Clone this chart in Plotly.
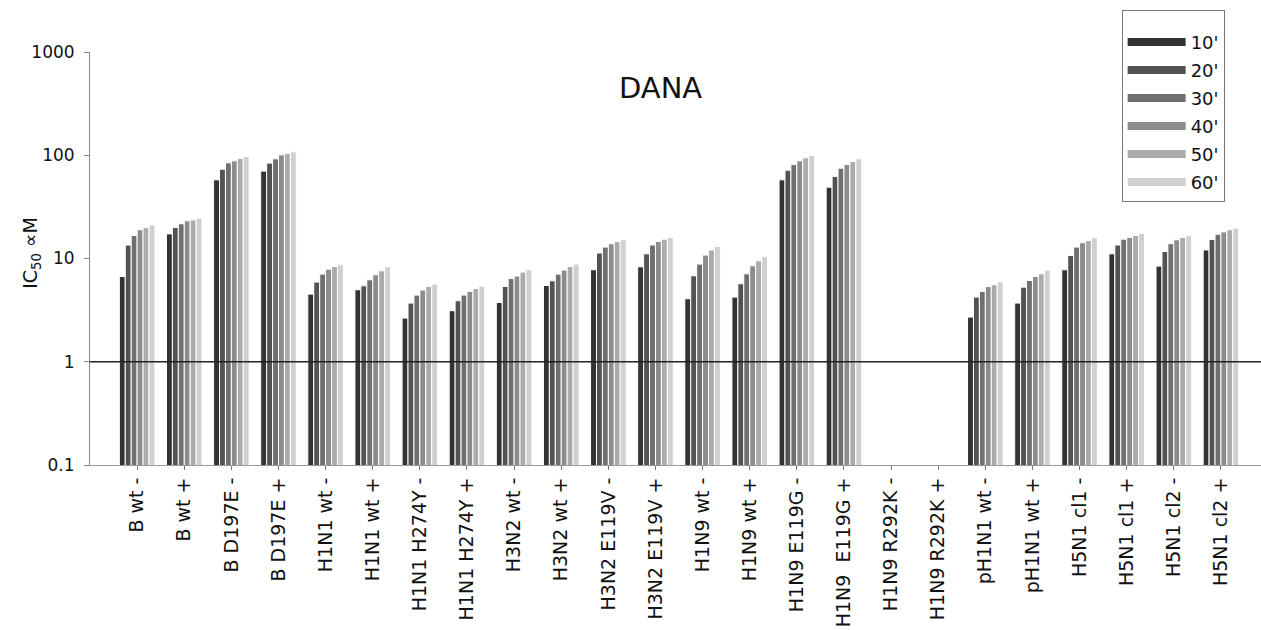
import plotly.graph_objects as go

# Strain / variant labels along the category axis
strains = [
    "B wt -", "B wt +", "B D197E -", "B D197E +",
    "H1N1 wt -", "H1N1 wt +", "H1N1 H274Y -", "H1N1 H274Y +",
    "H3N2 wt -", "H3N2 wt +", "H3N2 E119V -", "H3N2 E119V +",
    "H1N9 wt -", "H1N9 wt +", "H1N9 E119G -", "H1N9\u00a0 E119G +",
    "H1N9 R292K -", "H1N9 R292K +", "pH1N1 wt -", "pH1N1 wt +",
    "H5N1 cl1 -", "H5N1 cl1 +", "H5N1 cl2 -", "H5N1 cl2 +",
]

# Incubation times (series names)
times = ["10'", "20'", "30'", "40'", "50'", "60'"]

# IC50 values per incubation time (None = not determined)
ic50_10 = [6.7, 17.3, 57.8, 70.2, 4.52, 4.98, 2.65, 3.12, 3.75, 5.48, 7.78, 8.31,
           4.07, 4.23, 57.8, 49.1, None, None, 2.71, 3.70, 7.78, 11.1, 8.44, 12.1]
ic50_20 = [13.5, 20.0, 73.3, 83.9, 5.91, 5.44, 3.70, 3.90, 5.36, 6.08, 11.3, 11.1,
           6.80, 5.69, 71.7, 62.2, None, None, 4.23, 5.28, 10.7, 13.5, 11.7, 15.3]
ic50_30 = [16.7, 21.7, 84.4, 92.3, 7.06, 6.22, 4.42, 4.42, 6.40, 7.06, 12.9, 13.5,
           8.83, 7.11, 81.3, 75.0, None, None, 4.80, 6.12, 12.9, 15.4, 13.9, 17.2]
ic50_40 = [19.0, 23.2, 88.3, 100.9, 7.89, 6.95, 4.94, 4.80, 6.76, 7.72, 13.9, 14.6,
           10.8, 8.50, 88.3, 81.3, None, None, 5.36, 6.70, 14.2, 16.0, 15.2, 18.1]
ic50_50 = [20.0, 23.7, 92.9, 103.9, 8.37, 7.60, 5.36, 5.13, 7.38, 8.37, 14.6, 15.4,
           12.1, 9.50, 94.4, 86.9, None, None, 5.56, 7.11, 14.9, 16.7, 16.0, 19.0]
ic50_60 = [21.2, 24.6, 97.2, 107.9, 8.69, 8.37, 5.65, 5.41, 7.78, 8.83, 15.2, 16.0,
           13.1, 10.4, 99.3, 92.3, None, None, 5.95, 7.72, 15.9, 17.5, 16.7, 19.7]

series = [ic50_10, ic50_20, ic50_30, ic50_40, ic50_50, ic50_60]
greys = ["#333333", "#535353", "#707070", "#8c8c8c", "#ababab", "#d0d0d0"]

FONT = "DejaVu Sans"

fig = go.Figure()

for name, vals, col in zip(times, series, greys):
    fig.add_trace(go.Bar(
        x=strains, y=vals, name=name,
        marker=dict(color=col, line=dict(color="white", width=1)),
        showlegend=False,
    ))

# Legend entries drawn as thick strokes
for name, col in zip(times, greys):
    fig.add_trace(go.Scatter(
        x=[None], y=[None], mode="lines", name=name, legendgroup=name,
        line=dict(color=col, width=8),
    ))

fig.update_layout(
    width=1261, height=630,
    margin=dict(l=90, r=0, t=52, b=165),
    paper_bgcolor="white", plot_bgcolor="white",
    barmode="group", bargap=0.245, bargroupgap=0,
    font=dict(family=FONT, size=17, color="#111111"),
    showlegend=True,
    legend=dict(
        x=0.881, y=1.102, xanchor="left", yanchor="top",
        bordercolor="#777777", borderwidth=1, bgcolor="white",
        font=dict(family=FONT, size=18, color="#111111"),
        tracegroupgap=1.6, itemwidth=58,
        title=dict(text="\u00a0", font=dict(size=10)),
    ),
    xaxis=dict(
        type="category", range=[-1, 23.85],
        showline=True, linecolor="#999999", linewidth=1,
        ticks="outside", ticklen=4, tickcolor="#777777",
        tickangle=-90, showgrid=False,
        tickfont=dict(family=FONT, size=19, color="#111111"),
    ),
    yaxis=dict(
        type="log", range=[-1, 3],
        tickvals=[0.1, 1, 10, 100, 1000],
        ticktext=["0.1", "1", "10", "100", "1000"],
        showline=True, linecolor="#888888", linewidth=1,
        ticks="outside", ticklen=5, tickcolor="#888888",
        showgrid=False, ticklabelstandoff=6,
        tickfont=dict(family=FONT, size=17, color="#111111"),
    ),
    shapes=[dict(type="line", xref="paper", yref="y", x0=0, x1=1, y0=1, y1=1,
                 line=dict(color="#222222", width=1.3))],
    annotations=[
        dict(text="DANA", xref="paper", yref="paper", x=0.4876, y=0.959,
             showarrow=False, font=dict(family=FONT, size=29, color="#111111")),
        dict(text="IC<sub>50</sub> \u221dM", xref="paper", yref="paper",
             x=-0.063, y=0.513, textangle=-90, showarrow=False,
             font=dict(family=FONT, size=19, color="#111111")),
    ],
)

fig.write_html("out.html")
